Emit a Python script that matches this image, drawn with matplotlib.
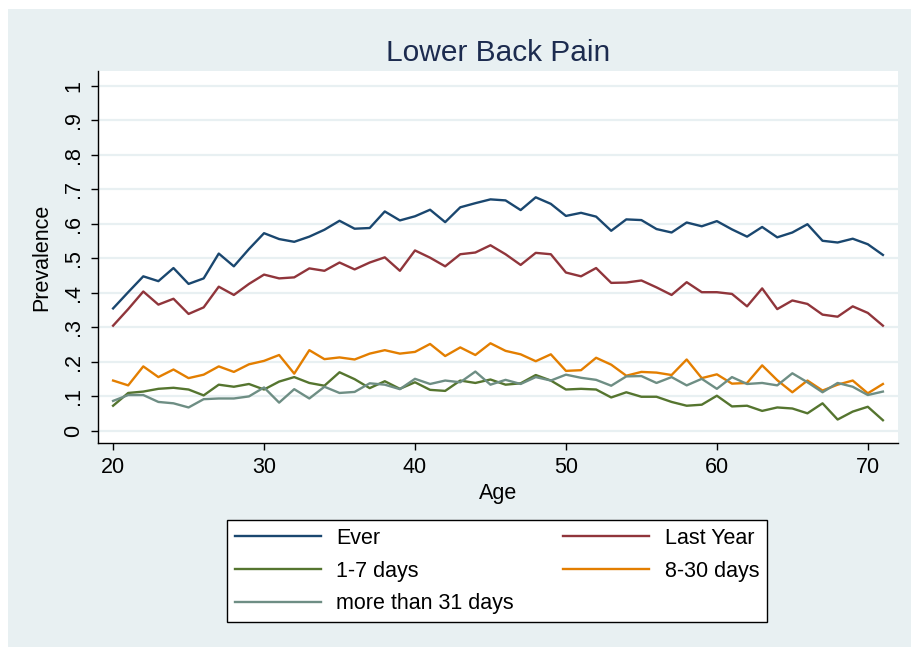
import numpy as np
import matplotlib
matplotlib.use("Agg")
import matplotlib.pyplot as plt
from matplotlib.patches import Rectangle

plt.rcParams["font.family"] = ["Liberation Sans", "DejaVu Sans"]

ages = list(range(20, 72))

ever = [0.355, 0.402, 0.448, 0.434, 0.472, 0.426, 0.442, 0.514, 0.477, 0.527,
        0.573, 0.556, 0.548, 0.563, 0.583, 0.609, 0.586, 0.588, 0.636, 0.610,
        0.622, 0.641, 0.605, 0.648, 0.660, 0.671, 0.668, 0.640, 0.677, 0.658,
        0.623, 0.632, 0.621, 0.580, 0.613, 0.611, 0.585, 0.575, 0.604, 0.593,
        0.608, 0.584, 0.563, 0.591, 0.561, 0.575, 0.599, 0.551, 0.546, 0.557,
        0.541, 0.510]
last_year = [0.305, 0.353, 0.404, 0.366, 0.383, 0.339, 0.358, 0.418, 0.394, 0.426,
             0.453, 0.442, 0.445, 0.471, 0.464, 0.488, 0.468, 0.488, 0.503, 0.464,
             0.523, 0.502, 0.477, 0.512, 0.517, 0.538, 0.512, 0.481, 0.516, 0.512,
             0.459, 0.448, 0.472, 0.429, 0.430, 0.436, 0.416, 0.394, 0.431, 0.402,
             0.402, 0.397, 0.361, 0.413, 0.353, 0.378, 0.368, 0.337, 0.331, 0.361,
             0.342, 0.305]
days_1_7 = [0.073, 0.110, 0.114, 0.122, 0.125, 0.120, 0.103, 0.134, 0.128, 0.136,
            0.120, 0.143, 0.156, 0.139, 0.131, 0.170, 0.150, 0.124, 0.144, 0.122,
            0.141, 0.119, 0.116, 0.146, 0.139, 0.149, 0.134, 0.138, 0.162, 0.146,
            0.120, 0.122, 0.120, 0.097, 0.112, 0.099, 0.099, 0.084, 0.073, 0.076,
            0.102, 0.071, 0.073, 0.058, 0.068, 0.065, 0.051, 0.080, 0.033, 0.056,
            0.070, 0.031]
days_8_30 = [0.146, 0.132, 0.187, 0.156, 0.178, 0.153, 0.163, 0.187, 0.171, 0.193,
             0.203, 0.220, 0.166, 0.234, 0.208, 0.213, 0.207, 0.224, 0.234, 0.224,
             0.229, 0.252, 0.217, 0.242, 0.220, 0.254, 0.232, 0.222, 0.202, 0.222,
             0.174, 0.176, 0.212, 0.192, 0.160, 0.171, 0.169, 0.162, 0.207, 0.153,
             0.164, 0.137, 0.139, 0.190, 0.147, 0.112, 0.146, 0.117, 0.134, 0.146,
             0.109, 0.136]
days_31_plus = [0.087, 0.104, 0.104, 0.084, 0.080, 0.068, 0.092, 0.094, 0.094, 0.100,
                0.126, 0.082, 0.121, 0.094, 0.128, 0.110, 0.113, 0.138, 0.134, 0.121,
                0.151, 0.136, 0.146, 0.141, 0.172, 0.134, 0.148, 0.136, 0.156, 0.146,
                0.163, 0.154, 0.148, 0.131, 0.158, 0.159, 0.139, 0.156, 0.132, 0.151,
                0.122, 0.156, 0.136, 0.139, 0.132, 0.167, 0.141, 0.112, 0.139, 0.128,
                0.104, 0.114]

labels = ["Ever", "Last Year", "1-7 days", "8-30 days", "more than 31 days"]
colors = ["#1A476F", "#90353B", "#55752F", "#E37E00", "#6E8E84"]
yticks = [0, 0.1, 0.2, 0.3, 0.4, 0.5, 0.6, 0.7, 0.8, 0.9, 1]
ytick_labels = ["0", ".1", ".2", ".3", ".4", ".5", ".6", ".7", ".8", ".9", "1"]
xticks = [20, 30, 40, 50, 60, 70]

bg = "#E8F0F2"
fs = 15.5

fig = plt.figure(figsize=(9.11, 6.47), dpi=100, facecolor="white")
# bluish-gray graph region, kept behind the axes
fig.patches.append(Rectangle((8 / 911, 0), 1, 1 - 9 / 647, transform=fig.transFigure,
                             facecolor=bg, edgecolor="none", zorder=-10))

ax = fig.add_axes([98 / 911, 1 - 443 / 647, 800 / 911, 372 / 647])
ax.set_zorder(1)
ax.set_facecolor("white")

handles = []
for series, lab, col in zip([ever, last_year, days_1_7, days_8_30, days_31_plus],
                            labels, colors):
    h, = ax.plot(ages, series, color=col, lw=1.7, label=lab, zorder=3)
    handles.append(h)

ax.set_xlim(19.0, 72.0)
ax.set_ylim(-0.035, 1.043)
ax.set_yticks(yticks)
ax.set_yticklabels(ytick_labels, rotation=90, va="center", fontsize=fs)
ax.set_xticks(xticks)
ax.set_xticklabels([str(t) for t in xticks], fontsize=fs)
ax.tick_params(direction="out", length=5, width=1.0, color="black", pad=5)
ax.grid(axis="y", color=bg, lw=1.6, zorder=1)
ax.set_axisbelow(True)

for s in ["top", "right"]:
    ax.spines[s].set_visible(False)
for s in ["left", "bottom"]:
    ax.spines[s].set_linewidth(1.0)
    ax.spines[s].set_color("black")

ax.set_xlabel("Age", fontsize=fs, labelpad=4)
ax.set_ylabel("Prevalence", fontsize=fs, labelpad=8)
ax.set_title("Lower Back Pain", fontsize=21.5, color="#1C2B4F", pad=7)

# legend filled row-wise: Ever/Last Year, 1-7/8-30, more than 31
order = [0, 2, 4, 1, 3]
leg = fig.legend([handles[i] for i in order], [labels[i] for i in order],
                 ncol=2, loc="center", bbox_to_anchor=(497 / 911, 1 - 571 / 647),
                 fontsize=fs, frameon=True, fancybox=False, edgecolor="black",
                 framealpha=1.0, handlelength=4.0, handletextpad=0.7,
                 columnspacing=2.3, labelspacing=0.55, borderpad=0.35,
                 borderaxespad=0)
leg.get_frame().set_linewidth(1.0)
leg.get_frame().set_facecolor("white")
leg.set_zorder(5)

fig.savefig("out.png", dpi=100, facecolor=fig.get_facecolor())
